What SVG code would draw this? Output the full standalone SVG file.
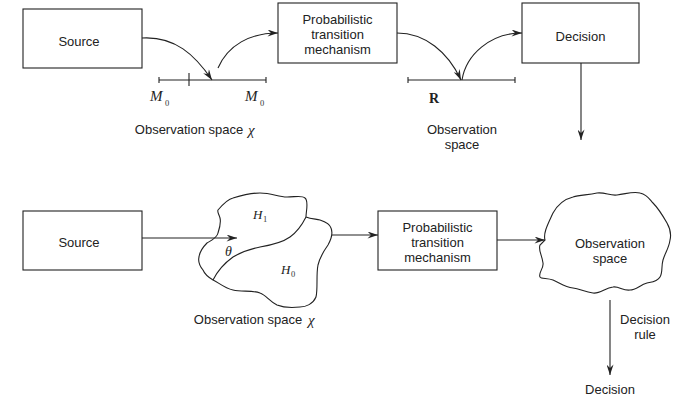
<svg xmlns="http://www.w3.org/2000/svg" width="677" height="400" viewBox="0 0 677 400">
<defs>
<style>
.box{fill:#fff;stroke:#222;stroke-width:1.1}
.ln{fill:none;stroke:#222;stroke-width:1.1}
.t{font-family:"Liberation Sans",Arial,sans-serif;font-size:13px;fill:#222;text-anchor:middle}
.m{font-family:"Liberation Serif","Times New Roman",serif;font-style:italic;fill:#222}
.sub{font-family:"Liberation Serif","Times New Roman",serif;font-size:8.5px;fill:#333}
</style>
<marker id="ah" viewBox="0 0 12 8" refX="12" refY="4" markerWidth="11" markerHeight="7" markerUnits="userSpaceOnUse" orient="auto">
<path d="M0,0 L12,4 L0,8 L4,4 z" fill="#222"/>
</marker>
</defs>
<rect width="677" height="400" fill="#fff"/>

<g id="connectors">
<path class="ln" d="M142,38 C175,36 195,55 212,80" marker-end="url(#ah)"/>
<path class="ln" d="M218,68 C228,45 250,33 278,33" marker-end="url(#ah)"/>
<path class="ln" d="M397,33 C425,33 448,52 461,80" marker-end="url(#ah)"/>
<path class="ln" d="M462,80 C466,55 490,33 522,33" marker-end="url(#ah)"/>
<path class="ln" d="M581,63 L581,140" marker-end="url(#ah)"/>
<path class="ln" d="M142,238 L237,238" marker-end="url(#ah)"/>
<path class="ln" d="M332,235 L378,235" marker-end="url(#ah)"/>
<path class="ln" d="M497,240 L545,240" marker-end="url(#ah)"/>
<path class="ln" d="M610,300 L610,375" marker-end="url(#ah)"/>
</g>

<g id="source-top">
<rect class="box" x="23" y="9" width="119" height="59"/>
<text class="t" x="79" y="46">Source</text>
</g>

<g id="ptm-top">
<rect class="box" x="278" y="3" width="119" height="60"/>
<text class="t" x="337.5" y="24">Probabilistic</text>
<text class="t" x="337.5" y="39">transition</text>
<text class="t" x="337.5" y="54">mechanism</text>
</g>

<g id="decision-top">
<rect class="box" x="522" y="3" width="117" height="60"/>
<text class="t" x="580.5" y="41">Decision</text>
</g>

<g id="obs-space-top-left">
<path class="ln" d="M159,80 L266,80 M159,77 L159,83 M266,77 L266,83 M189,73 L189,86"/>
<text class="m" x="150" y="101" font-size="15">M</text>
<text class="sub" x="165" y="106">0</text>
<text class="m" x="245" y="101" font-size="15">M</text>
<text class="sub" x="260" y="106">0</text>
<text class="t" x="189" y="134">Observation space</text>
<text class="m" x="248" y="135" font-size="15">χ</text>
</g>

<g id="obs-space-top-right">
<path class="ln" d="M408,80 L515,80 M408,77 L408,83 M515,77 L515,83"/>
<text x="429" y="103" font-family="'Liberation Serif','Times New Roman',serif" font-weight="bold" font-size="14" fill="#222">R</text>
<text class="t" x="462" y="134">Observation</text>
<text class="t" x="462" y="149">space</text>
</g>

<g id="source-bottom">
<rect class="box" x="23" y="211" width="119" height="59"/>
<text class="t" x="79" y="247">Source</text>
</g>

<g id="obs-space-blob">
<path class="ln" d="M218,210 C224,203 228,199 233,198 C243,195 250,193 260,193 C272,193 278,197 287,197 C295,197 302,195 305,198 C309,201 306,211 306,217 C311,219 316,219 320,220 C326,222 330,224 331,228 C333,233 332,238 328,245 C323,252 320,257 318,265 C316,275 318,288 316,297 C313,304 306,307 300,307 C291,308 282,307 277,305 C269,301 266,295 260,293 C252,290 242,292 233,290 C224,288 218,282 213,280 C208,277 205,275 203,270 C199,265 198,261 199,257 C200,250 204,246 207,243 C212,240 217,238 218,233 C220,227 221,222 220,218 C219,214 217,212 218,210 Z"/>
<path class="ln" d="M213,280 C218,270 226,262 233,257 C243,251 250,249 260,247 C272,245 283,242 290,237 C297,232 302,225 306,217"/>
<text class="m" x="253" y="219" font-size="13">H</text>
<text class="sub" x="263" y="222">1</text>
<text class="m" x="225" y="256" font-size="14">θ</text>
<text class="m" x="281" y="274" font-size="13">H</text>
<text class="sub" x="291" y="277">0</text>
<text class="t" x="248" y="324">Observation space</text>
<text class="m" x="308" y="325" font-size="15">χ</text>
</g>

<g id="ptm-bottom">
<rect class="box" x="378" y="211" width="119" height="59"/>
<text class="t" x="437.5" y="232">Probabilistic</text>
<text class="t" x="437.5" y="247">transition</text>
<text class="t" x="437.5" y="262">mechanism</text>
</g>

<g id="obs-space-cloud">
<path class="ln" d="M545,240 C543,233 548,224 553,213 C558,204 565,199 573,197 C580,195 588,195 597,193 C605,192 610,196 617,195 C626,194 633,191 640,193 C648,195 650,200 653,203 C659,209 663,216 667,223 C671,230 671,236 670,240 C669,248 665,253 663,260 C661,267 663,272 660,277 C657,282 652,282 647,283 C640,285 636,290 630,290 C623,291 619,286 613,287 C605,288 600,294 593,293 C585,292 580,289 573,288 C565,287 560,283 553,280 C547,278 541,279 540,277 C538,273 544,268 543,263 C542,255 538,250 540,245 Z"/>
<text class="t" x="610" y="248">Observation</text>
<text class="t" x="610" y="263">space</text>
</g>

<g id="decision-rule">
<text class="t" x="645" y="324">Decision</text>
<text class="t" x="645" y="339">rule</text>
</g>

<g id="decision-bottom">
<text class="t" x="610" y="394">Decision</text>
</g>
</svg>
